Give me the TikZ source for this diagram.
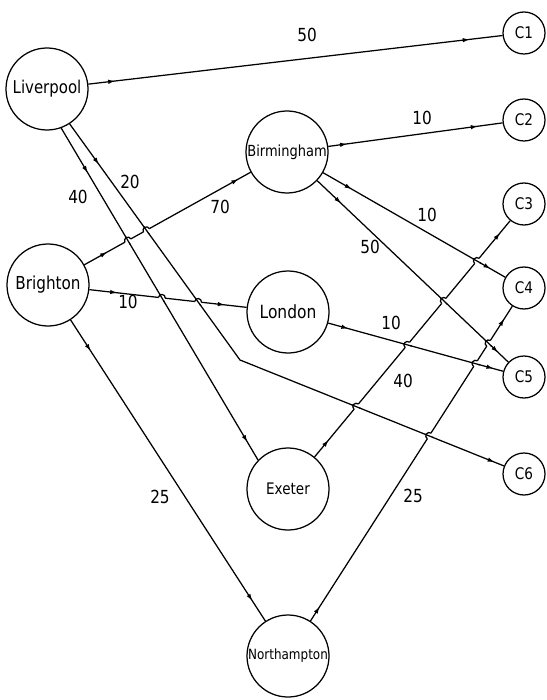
\documentclass[tikz,border=0pt]{standalone}
\usepackage{fontspec}
\setmainfont{DejaVu Sans}[FakeStretch=0.85]
\usetikzlibrary{arrows.meta,decorations.markings,intersections,calc}
\newcommand\hopat[5]{%
  \fill[white] (#1) circle (3.4pt);
  \draw[line width=1.25pt] let \p1=($(#5)-(#4)$), \n1={atan2(\y1,\x1)} in
     ($(#1)+(\n1:4.6pt)$) -- ($(#1)+(\n1+180:4.6pt)$);
  \draw[line width=1.25pt] let \p1=($(#3)-(#2)$), \n1={atan2(\y1,\x1)} in
     ($(#1)+(\n1+180:3.4pt)$) arc[start angle=\n1+180, delta angle=-180, radius=3.4pt];
}
\begin{document}
\begin{tikzpicture}[x=1pt,y=1pt,
  city/.style={circle,draw,line width=1.25pt,minimum size=82pt,inner sep=0pt},
  cust/.style={circle,draw,line width=1.25pt,minimum size=42pt,inner sep=0pt,font=\fontsize{16}{18}\selectfont},
  qty/.style={font=\fontsize{18}{20}\selectfont,inner sep=0pt},
  flow/.style 2 args={draw,line width=1.25pt,postaction={decorate,decoration={markings,
     mark=at position #1 with {\arrow{Latex[length=7pt,width=4.5pt]}},
     mark=at position -#2 with {\arrow{Latex[length=7pt,width=4.5pt]}}}}}]
\useasboundingbox (0,0) rectangle (546,-700);
% cities
\node[city,font=\fontsize{17.6}{20}\selectfont] (Lv) at (47,-89) {Liverpool};
\node[city,font=\fontsize{17.9}{20}\selectfont] (Br) at (48,-285) {Brighton};
\node[city,font=\fontsize{15.3}{18}\selectfont] (Bi) at (287,-152) {Birmingham};
\node[city,font=\fontsize{18.2}{20}\selectfont] (Lo) at (288,-312) {London};
\node[city,font=\fontsize{15.9}{18}\selectfont] (Ex) at (288,-489) {Exeter};
\node[city,font=\fontsize{14.1}{16}\selectfont] (No) at (288,-656) {Northampton};
% customers
\node[cust] (C1) at (524,-33) {C1};
\node[cust] (C2) at (524,-120) {C2};
\node[cust] (C3) at (524,-204) {C3};
\node[cust] (C4) at (524,-288) {C4};
\node[cust] (C5) at (524,-377) {C5};
\node[cust] (C6) at (524,-474) {C6};
% helper points
\coordinate (lb) at (Lv.-70);
\coordinate (lc) at (Lv.-57);
\coordinate (exb) at (Ex.136);
\coordinate (bend) at (240,-360);
% flows
\draw[flow={27pt}{33pt}] (Lv) -- (C1);
\draw[flow={52pt}{21pt},name path=B] (lb) -- (exb);
\draw[flow={50pt}{10pt}] (lc) -- (bend) -- (C6);
\path[name path=Ca] (lc) -- (bend);
\path[name path=Cb] (bend) -- (C6);
\draw[flow={26pt}{14pt},name path=D] (Br) -- (Bi);
\draw[flow={28pt}{22pt},name path=E] (Br) -- (Lo);
\draw[flow={37pt}{24pt}] (Br) -- (No);
\draw[flow={19pt}{25pt}] (Bi) -- (C2);
\draw[flow={33pt}{17pt},name path=H] (Bi) -- (C4);
\draw[flow={33pt}{14pt},name path=I] (Bi) -- (C5);
\draw[flow={21pt}{10pt},name path=J] (Lo) -- (C5);
\draw[flow={22pt}{16pt},name path=K] (Ex) -- (C3);
\draw[flow={17pt}{15pt},name path=M] (No) -- (C4);
% crossings
\path[name intersections={of=D and B,by=x1}];
\path[name intersections={of=D and Ca,by=x2}];
\path[name intersections={of=E and B,by=x3}];
\path[name intersections={of=E and Ca,by=x4}];
\path[name intersections={of=K and Cb,by=x5}];
\path[name intersections={of=M and Cb,by=x6}];
\path[name intersections={of=K and H,by=x7}];
\path[name intersections={of=K and I,by=x8}];
\path[name intersections={of=K and J,by=x9}];
\path[name intersections={of=M and I,by=x10}];
\path[name intersections={of=M and J,by=x11}];
\hopat{x1}{Br}{Bi}{lb}{exb}
\hopat{x2}{Br}{Bi}{lc}{bend}
\hopat{x3}{Br}{Lo}{lb}{exb}
\hopat{x4}{Br}{Lo}{lc}{bend}
\hopat{x5}{Ex}{C3}{bend}{C6}
\hopat{x6}{No}{C4}{bend}{C6}
\hopat{x7}{Ex}{C3}{Bi}{C4}
\hopat{x8}{Ex}{C3}{Bi}{C5}
\hopat{x9}{Ex}{C3}{Lo}{C5}
\hopat{x10}{No}{C4}{Bi}{C5}
\hopat{x11}{No}{C4}{Lo}{C5}
% quantities
\node[qty] (q1) at (307,-35) {50};
\node[qty] (q2) at (78,-197) {40};
\node[qty] (q3) at (130,-182) {20};
\node[qty] (q4) at (220,-207) {70};
\node[qty] (q5) at (128,-302) {10};
\node[qty] (q6) at (160,-497) {25};
\node[qty] (q7) at (422,-118) {10};
\node[qty] (q8) at (427,-215) {10};
\node[qty] (q9) at (370,-247) {50};
\node[qty] (q10) at (391,-323) {10};
\node[qty] (q11) at (403,-381) {40};
\node[qty] (q12) at (413,-496) {25};
\end{tikzpicture}
\end{document}
